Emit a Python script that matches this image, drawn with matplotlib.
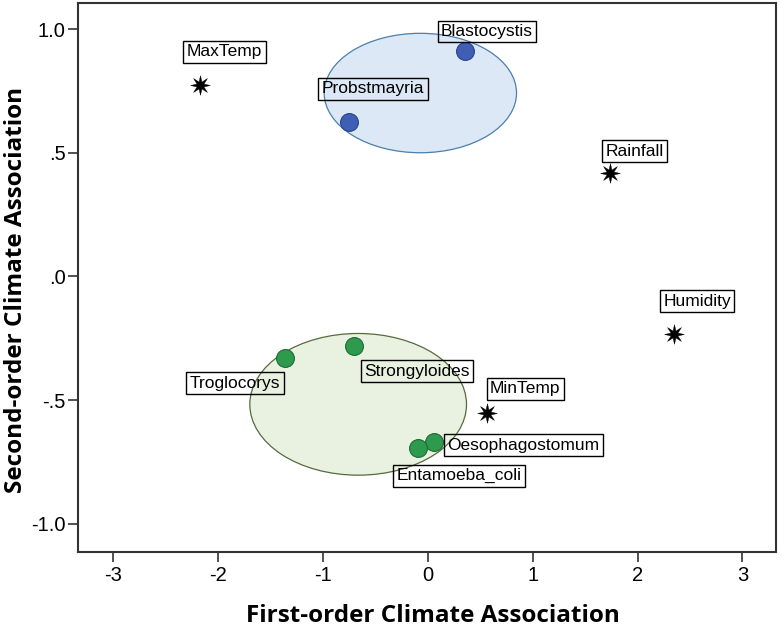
import matplotlib
matplotlib.use("Agg")
import numpy as np
import matplotlib.pyplot as plt
from matplotlib.patches import Ellipse
from matplotlib.path import Path

# parasite taxa (circles) and climate variables (stars)
blue_names = ["Blastocystis", "Probstmayria"]
blue_x = [0.35, -0.75]
blue_y = [0.91, 0.626]

green_names = ["Troglocorys", "Strongyloides", "Oesophagostomum", "Entamoeba_coli"]
green_x = [-1.358, -0.708, 0.06, -0.092]
green_y = [-0.331, -0.281, -0.67, -0.692]

climate_names = ["MaxTemp", "Rainfall", "Humidity", "MinTemp"]
climate_x = [-2.17, 1.735, 2.345, 0.56]
climate_y = [0.775, 0.417, -0.234, -0.551]

# cluster ellipses: centre x, centre y, width, height
blue_ellipse = (-0.071, 0.742, 1.834, 0.483)
green_ellipse = (-0.664, -0.517, 2.066, 0.573)

x_ticks = [-3, -2, -1, 0, 1, 2, 3]
y_ticks = [1.0, 0.5, 0.0, -0.5, -1.0]
y_tick_labels = ["1.0", ".5", ".0", "-.5", "-1.0"]

# lower-left corner of each label box, pixels from its point
label_offsets = {
    "MaxTemp": (-17, 22), "Blastocystis": (-27, 9), "Probstmayria": (-31, 22),
    "Rainfall": (-8, 11), "Humidity": (-14, 22), "MinTemp": (0, 13),
    "Troglocorys": (-99, -36), "Strongyloides": (7, -36),
    "Oesophagostomum": (10, -14), "Entamoeba_coli": (-25, -39),
}

# 8-spike star marker
ang = np.linspace(0, 2 * np.pi, 17)[:-1] + np.pi / 2
rad = np.where(np.arange(16) % 2 == 0, 1.0, 0.38)
star_verts = np.column_stack([rad * np.cos(ang), rad * np.sin(ang)])
star = Path(np.vstack([star_verts, star_verts[:1]]), closed=True)

fig = plt.figure(figsize=(7.81, 6.29), dpi=100)
ax = fig.add_axes([0.0999, 0.1229, 0.8937, 0.8723])

for (cx, cy, w, h), fc, ec in [(blue_ellipse, "#dce8f5", "#4a7fb0"),
                               (green_ellipse, "#e9f2e0", "#566b3c")]:
    ax.add_patch(Ellipse((cx, cy), w, h, facecolor=fc, edgecolor=ec, lw=0.9, zorder=1))

ax.scatter(blue_x, blue_y, s=165, c="#3f5fb5", edgecolors="#2b4489", lw=0.8, zorder=3)
ax.scatter(green_x, green_y, s=165, c="#2e9a4e", edgecolors="#1f6b35", lw=0.8, zorder=3)
ax.scatter(climate_x, climate_y, s=200, marker=star, c="black", lw=0.3,
           edgecolors="black", zorder=3)

fs = 12.5
pad = 0.2
pad_px = pad * fs * 100 / 72
names = blue_names + green_names + climate_names
xs = blue_x + green_x + climate_x
ys = blue_y + green_y + climate_y
for n, x, y in zip(names, xs, ys):
    dx, dy = label_offsets[n]
    ax.annotate(n, (x, y), xytext=(dx + pad_px, dy + pad_px), textcoords="offset pixels",
                ha="left", va="bottom", fontsize=fs, family="Liberation Sans", zorder=4,
                bbox=dict(boxstyle="square,pad=%s" % pad, fc="none", ec="black", lw=1))

ax.set_xlim(-3.335, 3.32)
ax.set_ylim(-1.113, 1.106)
ax.set_xticks(x_ticks)
ax.set_xticklabels([str(t) for t in x_ticks])
ax.set_yticks(y_ticks)
ax.set_yticklabels(y_tick_labels)
ax.tick_params(direction="out", length=7.5, width=1.2, color="#333333",
               labelsize=14.5, top=False, right=False)
for lab in ax.get_xticklabels() + ax.get_yticklabels():
    lab.set_family("Liberation Sans")
ax.tick_params(axis="x", pad=3)
ax.tick_params(axis="y", pad=1.5)
for sp in ax.spines.values():
    sp.set_color("#333333")
    sp.set_linewidth(1.5)

ax.set_xlabel("First-order Climate Association", fontsize=17.5, fontweight="bold",
              family="Open Sans")
ax.set_ylabel("Second-order Climate Association", fontsize=17.5, fontweight="bold",
              family="Open Sans")
ax.xaxis.set_label_coords(0.508, -0.095)
ax.yaxis.set_label_coords(-0.072, 0.477)

fig.savefig("out.png", dpi=100)
